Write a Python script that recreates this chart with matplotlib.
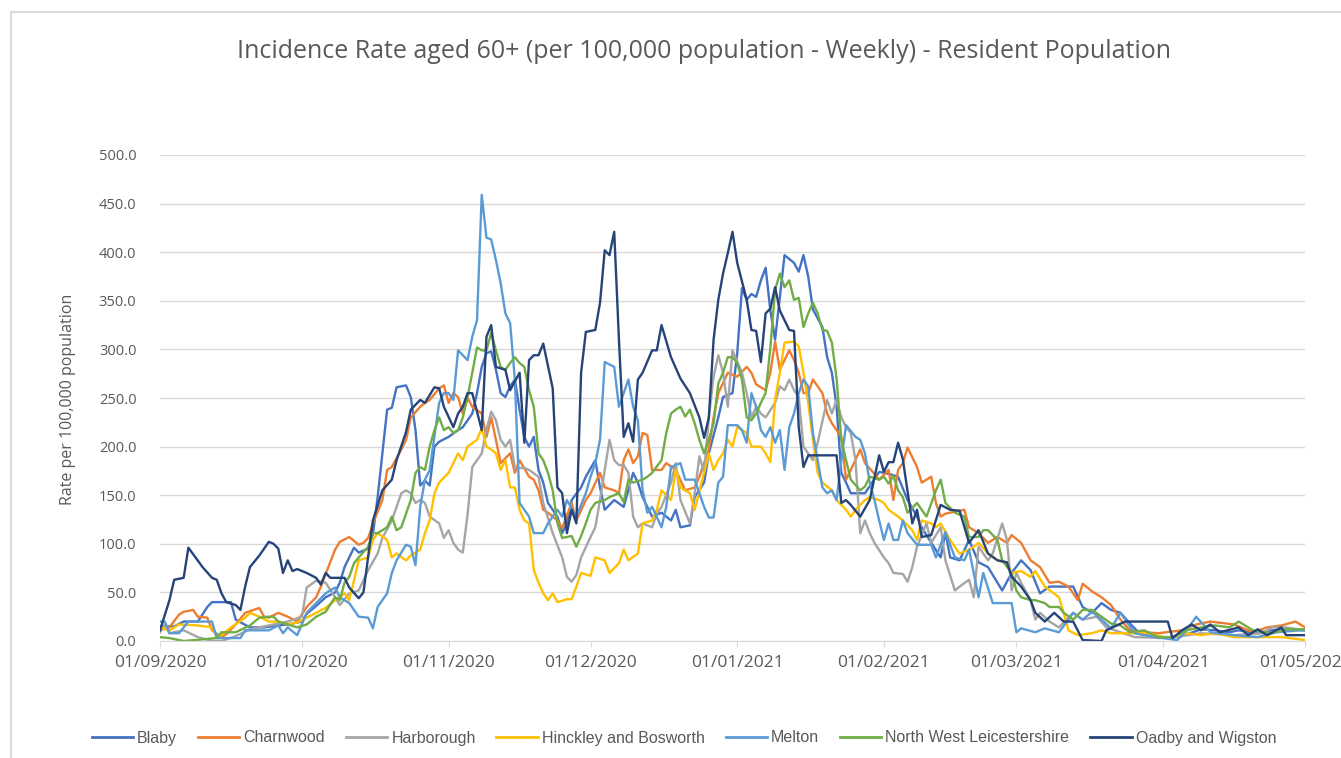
import numpy as np
import pandas as pd
import matplotlib

matplotlib.use("Agg")
import matplotlib.pyplot as plt
import matplotlib.dates as mdates
from matplotlib.lines import Line2D

START = pd.Timestamp("2020-09-01")
END = pd.Timestamp("2021-05-01")

# days since 01/09/2020 and weekly rate per 100,000
blaby_day = [0, 3, 5, 8, 10, 11, 15, 16, 19, 22, 25, 27, 30, 31, 33, 35, 37, 38, 39, 41,
             42, 44, 45, 46, 48, 49, 50, 52, 53, 54, 55, 56, 57, 58, 59, 61, 63, 64, 66, 67,
             68, 69, 70, 71, 72, 73, 74, 75, 76, 77, 78, 79, 80, 81, 82, 84, 85, 86, 87, 89,
             90, 92, 93, 94, 96, 98, 100, 101, 102, 104, 106, 108, 109, 110, 112, 113, 115, 116, 118, 119,
             121, 122, 123, 124, 125, 126, 127, 128, 129, 130, 131, 132, 134, 135, 136, 137, 138, 140, 141, 142,
             143, 144, 145, 146, 149, 152, 154, 156, 158, 160, 161, 163, 165, 166, 167, 169, 171, 173, 175, 178,
             180, 182, 184, 186, 188, 193, 195, 197, 199, 201, 203, 205, 207, 211, 216, 220, 223, 226, 228, 232,
             235, 238, 242]
blaby_val = [15, 15, 20, 20, 35, 40, 40, 22, 14, 14, 16, 17, 20, 28, 36, 45, 50, 60, 76, 96,
             91, 95, 110, 148, 238, 240, 261, 263, 251, 217, 160, 165, 160, 200, 205, 210, 217, 220, 234, 255,
             282, 296, 298, 279, 255, 251, 262, 269, 238, 210, 200, 210, 176, 163, 142, 128, 111, 121, 145, 158,
             169, 186, 158, 135, 145, 138, 173, 163, 148, 128, 132, 124, 135, 117, 119, 148, 163, 193, 230, 251,
             255, 296, 363, 351, 357, 354, 371, 384, 340, 310, 354, 397, 389, 380, 397, 375, 341, 323, 292, 276,
             241, 173, 163, 152, 152, 174, 172, 169, 145, 128, 117, 101, 86, 112, 86, 83, 104, 81, 76, 52,
             70, 83, 73, 49, 56, 56, 35, 29, 39, 32, 29, 18, 8, 3, 5, 12, 11, 9, 11, 8,
             11, 12, 11]

charnwood_day = [0, 2, 4, 5, 7, 8, 10, 11, 13, 14, 16, 18, 21, 22, 23, 25, 27, 29, 31, 33,
                 34, 37, 38, 40, 42, 43, 44, 45, 47, 48, 49, 51, 52, 53, 55, 56, 57, 59, 60, 61,
                 62, 63, 64, 65, 66, 68, 69, 70, 71, 72, 74, 75, 76, 78, 79, 80, 81, 82, 84, 85,
                 87, 88, 90, 91, 93, 94, 96, 97, 98, 99, 100, 101, 102, 103, 104, 106, 107, 109, 111, 113,
                 114, 116, 117, 118, 120, 122, 124, 125, 126, 128, 129, 130, 131, 132, 133, 134, 135, 136, 137, 138,
                 140, 141, 142, 144, 145, 146, 148, 149, 151, 152, 154, 155, 156, 157, 158, 160, 161, 163, 164, 165,
                 166, 168, 170, 171, 173, 175, 177, 179, 180, 182, 184, 186, 188, 190, 192, 194, 195, 197, 199, 201,
                 203, 205, 208, 211, 216, 219, 222, 227, 231, 234, 237, 240, 242]
charnwood_val = [11, 14, 27, 30, 32, 25, 24, 11, 4, 7, 17, 29, 34, 25, 24, 29, 25, 20, 35, 45,
                 56, 94, 102, 107, 99, 101, 106, 121, 145, 176, 179, 197, 207, 230, 241, 245, 248, 260, 263, 245,
                 255, 251, 234, 250, 241, 234, 210, 230, 207, 183, 193, 173, 186, 169, 166, 155, 135, 132, 124, 116,
                 142, 124, 145, 152, 173, 158, 155, 152, 186, 197, 183, 190, 214, 212, 176, 176, 183, 176, 155, 158,
                 169, 197, 230, 255, 276, 272, 282, 276, 264, 258, 276, 308, 279, 289, 299, 289, 276, 255, 255, 269,
                 255, 234, 224, 210, 166, 176, 197, 183, 172, 166, 176, 145, 176, 183, 199, 179, 163, 169, 142, 128,
                 131, 133, 135, 117, 111, 101, 107, 101, 109, 101, 83, 76, 60, 61, 56, 42, 59, 51, 45, 37,
                 22, 11, 9, 8, 11, 17, 20, 17, 9, 14, 16, 20, 14]

harborough_day = [0, 1, 2, 5, 8, 11, 13, 16, 19, 23, 27, 30, 31, 33, 35, 37, 38, 40, 42, 44,
                  46, 47, 49, 50, 51, 52, 53, 54, 55, 56, 57, 59, 60, 61, 62, 63, 64, 65, 66, 67,
                  68, 69, 70, 71, 72, 73, 74, 75, 77, 78, 80, 81, 83, 85, 86, 87, 88, 89, 91, 92,
                  93, 94, 95, 96, 97, 98, 99, 100, 101, 102, 104, 105, 106, 108, 109, 110, 112, 113, 114, 115,
                  116, 117, 118, 119, 120, 121, 123, 124, 125, 126, 127, 128, 130, 131, 132, 133, 134, 135, 136, 137,
                  138, 139, 141, 142, 143, 144, 145, 146, 147, 148, 149, 150, 151, 153, 154, 155, 157, 158, 159, 160,
                  162, 163, 165, 166, 168, 169, 171, 172, 173, 175, 176, 178, 179, 180, 181, 182, 184, 185, 186, 188,
                  190, 193, 195, 198, 200, 206, 213, 220, 227, 233, 235, 238, 242]
harborough_val = [9, 17, 8, 11, 4, 0, 0, 5, 12, 16, 20, 25, 55, 62, 60, 45, 37, 49, 52, 73,
                  90, 106, 124, 138, 152, 155, 152, 142, 145, 142, 128, 121, 106, 114, 101, 94, 91, 130, 179, 186,
                  193, 217, 236, 227, 207, 200, 207, 178, 178, 176, 169, 142, 111, 86, 66, 61, 68, 86, 107, 117,
                  145, 176, 207, 186, 181, 181, 173, 128, 117, 121, 117, 131, 138, 163, 183, 145, 121, 152, 190, 173,
                  230, 272, 294, 276, 241, 299, 276, 255, 230, 241, 234, 230, 245, 262, 258, 269, 258, 251, 200, 193,
                  186, 204, 248, 234, 248, 230, 220, 214, 186, 111, 124, 111, 101, 86, 80, 70, 69, 61, 76, 97,
                  121, 101, 117, 83, 52, 56, 63, 45, 97, 83, 90, 121, 104, 52, 70, 60, 42, 22, 29, 20,
                  14, 29, 22, 25, 14, 4, 3, 8, 6, 8, 14, 14, 11]

hinckley_day = [0, 2, 4, 8, 11, 12, 13, 15, 18, 19, 21, 23, 25, 27, 29, 31, 33, 35, 37, 39,
                40, 42, 44, 45, 46, 48, 49, 50, 52, 53, 55, 56, 57, 58, 59, 61, 62, 63, 64, 65,
                67, 68, 69, 70, 71, 72, 73, 74, 75, 76, 77, 78, 79, 80, 81, 82, 83, 84, 86, 87,
                88, 89, 91, 92, 94, 95, 97, 98, 99, 101, 102, 104, 105, 106, 108, 109, 110, 112, 113, 115,
                116, 117, 118, 119, 120, 121, 122, 124, 125, 127, 128, 129, 130, 131, 132, 134, 135, 136, 137, 138,
                139, 140, 141, 142, 143, 145, 146, 147, 149, 150, 152, 153, 154, 156, 157, 159, 160, 161, 163, 164,
                165, 167, 169, 171, 172, 173, 175, 177, 179, 180, 182, 184, 185, 187, 190, 191, 192, 194, 197, 199,
                201, 206, 209, 213, 217, 220, 223, 227, 232, 237, 242]
hinckley_val = [14, 11, 17, 16, 14, 4, 6, 14, 24, 29, 25, 20, 20, 17, 19, 24, 29, 34, 42, 49,
                42, 83, 86, 104, 111, 104, 86, 90, 83, 88, 94, 111, 124, 152, 163, 173, 183, 193, 186, 200,
                207, 219, 200, 197, 193, 176, 186, 158, 158, 135, 124, 121, 73, 60, 49, 42, 49, 40, 43, 43,
                56, 70, 67, 86, 83, 70, 80, 94, 83, 90, 121, 124, 135, 155, 145, 176, 158, 152, 135, 173,
                193, 176, 186, 193, 207, 200, 220, 214, 200, 200, 193, 184, 248, 276, 307, 308, 303, 276, 245, 207,
                173, 163, 159, 155, 145, 135, 128, 135, 145, 148, 145, 142, 135, 128, 124, 114, 104, 124, 121, 117,
                121, 104, 90, 94, 97, 101, 90, 83, 80, 70, 72, 66, 72, 56, 45, 29, 11, 6, 8, 11,
                8, 8, 8, 3, 8, 6, 8, 4, 4, 4, 1]

melton_day = [0, 1, 2, 4, 6, 11, 12, 17, 18, 23, 25, 26, 27, 29, 31, 33, 35, 37, 38, 40,
              42, 44, 45, 46, 48, 49, 50, 52, 53, 54, 55, 56, 57, 59, 60, 61, 62, 63, 65, 66,
              67, 68, 69, 70, 71, 72, 73, 74, 75, 76, 78, 79, 81, 82, 84, 85, 86, 88, 90, 91,
              92, 93, 94, 96, 97, 98, 99, 100, 101, 102, 103, 104, 106, 107, 108, 110, 111, 113, 115, 116,
              117, 118, 119, 120, 122, 123, 124, 125, 126, 127, 128, 129, 130, 131, 132, 133, 134, 135, 136, 137,
              138, 139, 140, 141, 142, 143, 144, 145, 147, 148, 149, 150, 151, 152, 153, 154, 155, 156, 157, 158,
              160, 163, 164, 166, 168, 170, 171, 173, 174, 176, 180, 181, 182, 185, 187, 190, 192, 193, 195, 197,
              199, 201, 203, 206, 209, 215, 217, 219, 222, 227, 232, 236, 241, 242]
melton_val = [20, 20, 8, 8, 20, 20, 3, 3, 11, 11, 16, 8, 14, 6, 29, 39, 49, 55, 45, 39,
              25, 24, 13, 35, 49, 70, 83, 99, 97, 78, 138, 166, 176, 245, 255, 255, 248, 299, 289, 313,
              330, 459, 415, 413, 392, 368, 337, 327, 269, 142, 128, 111, 111, 121, 135, 128, 145, 128, 152, 169,
              183, 207, 287, 282, 241, 255, 269, 241, 227, 155, 132, 138, 117, 138, 179, 183, 166, 166, 138, 127,
              127, 163, 169, 222, 222, 217, 204, 255, 241, 217, 210, 220, 204, 217, 176, 220, 234, 255, 269, 262,
              214, 186, 158, 152, 155, 145, 186, 222, 210, 207, 193, 163, 145, 124, 104, 121, 104, 104, 124, 111,
              99, 99, 86, 112, 86, 83, 94, 45, 70, 39, 39, 9, 13, 9, 13, 9, 22, 29, 22, 30,
              22, 13, 29, 8, 5, 1, 11, 25, 9, 6, 4, 9, 11, 11]

nwl_day = [0, 2, 5, 12, 13, 16, 19, 21, 23, 24, 25, 27, 29, 31, 33, 35, 37, 38, 39, 40,
           41, 42, 44, 45, 46, 48, 49, 50, 51, 52, 53, 54, 55, 56, 57, 58, 59, 60, 61, 62,
           63, 64, 65, 66, 67, 68, 69, 70, 71, 72, 73, 74, 75, 76, 77, 78, 79, 80, 81, 82,
           83, 84, 85, 87, 88, 89, 90, 91, 92, 94, 95, 97, 98, 99, 100, 102, 103, 104, 106, 107,
           108, 109, 110, 111, 112, 113, 114, 115, 116, 117, 118, 119, 120, 121, 122, 123, 124, 125, 126, 127,
           128, 129, 130, 131, 132, 133, 134, 135, 136, 137, 138, 139, 140, 141, 142, 143, 144, 145, 146, 148,
           149, 150, 152, 153, 154, 155, 156, 157, 158, 160, 161, 162, 164, 165, 166, 168, 170, 171, 173, 174,
           175, 177, 178, 180, 181, 182, 184, 185, 187, 188, 190, 191, 193, 195, 197, 199, 201, 203, 205, 208,
           211, 214, 217, 220, 223, 226, 228, 231, 235, 238, 242]
nwl_val = [4, 3, 0, 3, 9, 9, 16, 24, 25, 25, 20, 17, 14, 17, 25, 30, 45, 42, 60, 66,
           80, 86, 97, 111, 111, 117, 128, 114, 117, 131, 145, 173, 179, 176, 200, 217, 230, 217, 220, 214,
           217, 230, 251, 276, 302, 299, 299, 317, 299, 282, 279, 286, 292, 286, 282, 258, 241, 193, 186, 173,
           155, 121, 106, 108, 97, 108, 121, 135, 142, 145, 148, 152, 143, 166, 163, 166, 169, 173, 186, 214,
           234, 238, 241, 231, 238, 224, 207, 193, 207, 224, 265, 276, 292, 292, 286, 269, 230, 227, 234, 245,
           255, 302, 361, 378, 364, 371, 351, 353, 323, 337, 348, 337, 320, 319, 307, 270, 207, 186, 166, 155,
           159, 169, 166, 169, 162, 170, 155, 148, 132, 142, 135, 128, 155, 166, 142, 132, 128, 107, 107, 114,
           114, 104, 83, 70, 52, 45, 42, 42, 39, 35, 35, 29, 22, 32, 32, 25, 18, 16, 9, 11,
           4, 4, 11, 14, 16, 14, 20, 11, 8, 12, 12]

oadby_day = [0, 2, 3, 5, 6, 9, 11, 12, 13, 14, 16, 17, 18, 19, 21, 23, 24, 25, 26, 27,
             28, 29, 31, 33, 34, 35, 36, 39, 40, 42, 43, 45, 47, 49, 50, 52, 53, 55, 56, 58,
             59, 60, 62, 63, 64, 65, 66, 68, 69, 70, 71, 73, 74, 76, 77, 78, 79, 80, 81, 83,
             84, 85, 86, 87, 88, 89, 90, 92, 93, 94, 95, 96, 97, 98, 99, 100, 101, 102, 104, 105,
             106, 108, 110, 112, 114, 115, 116, 117, 118, 119, 120, 121, 122, 124, 125, 126, 127, 128, 129, 130,
             131, 133, 134, 135, 136, 137, 143, 144, 145, 146, 148, 150, 152, 153, 154, 155, 156, 157, 159, 160,
             161, 163, 165, 167, 169, 171, 173, 175, 177, 179, 180, 182, 184, 185, 187, 189, 191, 193, 195, 199,
             200, 204, 213, 214, 216, 218, 220, 222, 224, 228, 230, 232, 234, 237, 238, 242]
oadby_val = [11, 42, 63, 65, 96, 76, 65, 63, 49, 40, 37, 32, 56, 76, 88, 102, 100, 95, 70, 83,
             72, 74, 70, 65, 58, 70, 65, 65, 55, 44, 50, 124, 155, 166, 186, 215, 238, 248, 245, 261,
             260, 241, 220, 234, 241, 255, 255, 217, 313, 325, 282, 279, 258, 276, 204, 289, 294, 294, 306, 260,
             158, 152, 111, 135, 121, 276, 318, 320, 348, 402, 397, 421, 310, 210, 224, 205, 269, 276, 299, 299,
             325, 292, 270, 255, 230, 209, 230, 310, 351, 378, 399, 421, 389, 351, 320, 319, 287, 337, 342, 364,
             340, 320, 319, 220, 179, 191, 191, 142, 145, 140, 128, 145, 191, 174, 184, 184, 204, 187, 121, 135,
             107, 109, 140, 135, 134, 101, 114, 90, 83, 81, 66, 56, 42, 29, 20, 29, 20, 20, 1, 0,
             11, 20, 20, 3, 11, 17, 11, 17, 9, 14, 6, 12, 6, 14, 6, 6]

names = ["Blaby", "Charnwood", "Harborough", "Hinckley and Bosworth", "Melton",
         "North West Leicestershire", "Oadby and Wigston"]
colors = ["#4472C4", "#ED7D31", "#A5A5A5", "#FFC000", "#5B9BD5", "#70AD47", "#264478"]
series = [
    (blaby_day, blaby_val),
    (charnwood_day, charnwood_val),
    (harborough_day, harborough_val),
    (hinckley_day, hinckley_val),
    (melton_day, melton_val),
    (nwl_day, nwl_val),
    (oadby_day, oadby_val),
]

TEXT = "#595959"

fig = plt.figure(figsize=(13.41, 7.58), dpi=100)
ax = fig.add_axes([160 / 1341, 1 - 641 / 758, 1145 / 1341, 486 / 758])

for (days, vals), name, color in zip(series, names, colors):
    dates = START + pd.to_timedelta(np.array(days), unit="D")
    ax.plot(dates, vals, color=color, linewidth=1.7, label=name, solid_joinstyle="round")

ax.set_xlim(START, END)
ax.set_ylim(0, 500)
ax.set_yticks(np.arange(0, 501, 50))
ax.yaxis.set_major_formatter(matplotlib.ticker.FuncFormatter(lambda v, _: f"{v:.1f}"))
ax.xaxis.set_major_locator(mdates.MonthLocator(bymonthday=1, interval=1))
ax.xaxis.set_major_formatter(mdates.DateFormatter("%d/%m/%Y"))
ax.grid(axis="y", color="#D9D9D9", linewidth=1.0)
ax.set_axisbelow(True)
for side in ("top", "right", "left"):
    ax.spines[side].set_visible(False)
ax.spines["bottom"].set_color("#D9D9D9")
ax.tick_params(axis="y", length=0, pad=17, labelsize=10.5, labelcolor=TEXT)
ax.tick_params(axis="x", length=4, color="#D9D9D9", pad=6, labelsize=12.5, labelcolor=TEXT)
for lab in ax.get_xticklabels() + ax.get_yticklabels():
    lab.set_fontfamily("Open Sans")

ax.set_ylabel("Rate per 100,000 population", fontsize=11.5, color=TEXT, family="Open Sans")
ax.yaxis.set_label_coords(-0.0734, 0.498)

fig.text(0.525, 1 - 52 / 758, "Incidence Rate aged 60+ (per 100,000 population - Weekly) - Resident Population",
         ha="center", va="center", fontsize=18, color=TEXT, family="Open Sans")

handles = [Line2D([0], [0], color=c, linewidth=2) for c in colors]
fig.legend(handles, names, loc="center", bbox_to_anchor=(0.51, 1 - 738 / 758), ncol=7,
           frameon=False, handlelength=2.6, handletextpad=0.25, columnspacing=1.3,
           prop={"family": "Liberation Sans", "size": 11.5},
           labelcolor=TEXT)

# light frame around the chart area, as in the exported picture
fig.add_artist(Line2D([11 / 1341, 11 / 1341], [0, 1 - 12 / 758], transform=fig.transFigure,
                      color="#D9D9D9", linewidth=1.5))
fig.add_artist(Line2D([11 / 1341, 1], [1 - 12 / 758, 1 - 12 / 758], transform=fig.transFigure,
                      color="#D9D9D9", linewidth=1.5))

fig.savefig("out.png", dpi=100)
